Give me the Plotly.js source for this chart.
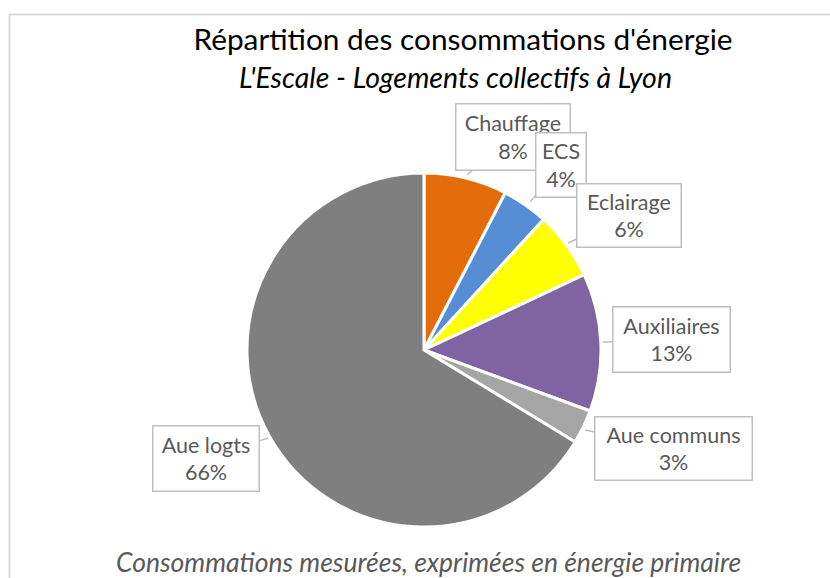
<!DOCTYPE html>
<html>
<head>
<meta charset="utf-8">
<script src="https://cdn.plot.ly/plotly-3.0.1.min.js"></script>
<style>html,body{margin:0;padding:0;background:#fff;}#chart{width:830px;height:578px;}</style>
</head>
<body>
<div id="chart"></div>
<script>
// Data
const categories = ["Chauffage", "ECS", "Eclairage", "Auxiliaires", "Aue communs", "Aue logts"];
const values = [7.6, 4.2, 6.2, 12.6, 3.1, 66.3];
const colors = ["#E46C0A", "#558ED5", "#FFFF00", "#8064A2", "#A5A5A5", "#7F7F7F"];

const titleText = "Répartition des consommations d'énergie";
const subtitleText = "L'Escale - Logements collectifs à Lyon";
const footerText = "Consommations mesurées, exprimées en énergie primaire";

// Layout helpers (pixel positions of callouts)
const W = 830, H = 578;
const tips = [[467,175],[530,202],[568,243],[603,342],[585,430],[268,438]];
const boxes = [[513,137,116,68],[561,165,52,66],[629,215.5,106,65],[671.5,339.5,119,67],[673.5,448.5,159,65],[206,458.5,108,67]];

const total = values.reduce((a,b)=>a+b,0);
const FONT = "Lato, 'Open Sans', sans-serif";

const annotations = categories.map((c,i)=>{
  const t = tips[i], b = boxes[i];
  const pad = 2;
  return {
    xref:'paper', yref:'paper',
    x: t[0]/W, y: 1 - t[1]/H,
    ax: b[0]-t[0], ay: b[1]-t[1], axref:'pixel', ayref:'pixel',
    showarrow:true, arrowhead:0, arrowwidth:1.5, arrowcolor:'#BFBFBF', standoff:0, startstandoff:0,
    text: c + '<br>' + Math.round(values[i]/total*100) + '%',
    font:{family:FONT, size:21.5, color:'#595959'},
    align:'center',
    bgcolor:'#FFFFFF', bordercolor:'#BFBFBF', borderwidth:1.5, borderpad:pad,
    width: b[2]-2*pad-3, height: b[3]-2*pad-3
  };
});

annotations.push({
  xref:'paper', yref:'paper', x:455/W, y:1-77/H, xanchor:'center', yanchor:'middle',
  showarrow:false, text:'<i>'+subtitleText+'</i>',
  font:{family:FONT, size:28.5, color:'#000000'}
});
annotations.push({
  xref:'paper', yref:'paper', x:429/W, y:1-562/H, xanchor:'center', yanchor:'middle',
  showarrow:false, text:'<i>'+footerText+'</i>',
  font:{family:FONT, size:26.5, color:'#595959'}
});

const trace = {
  type:'pie',
  labels: categories,
  values: values,
  sort:false,
  direction:'clockwise',
  rotation:0,
  textinfo:'none',
  hoverinfo:'label+percent',
  marker:{colors:colors, line:{color:'#FFFFFF', width:3}},
  domain:{x:[247/W, 601/W], y:[1-527/H, 1-173/H]},
  showlegend:false
};

const layout = {
  width:W, height:H,
  margin:{l:0,r:0,t:0,b:0},
  paper_bgcolor:'#FFFFFF',
  title:{text:titleText, x:463/W, xanchor:'center', y:1-40/H, yanchor:'middle',
         font:{family:FONT, size:29.8, color:'#000000'}},
  annotations: annotations,
  shapes:[{type:'rect', xref:'paper', yref:'paper', x0:9.5/W, x1:1.2, y0:-0.2, y1:1-14.5/H,
           line:{color:'#D9D9D9', width:2}, fillcolor:'rgba(0,0,0,0)'}]
};

Plotly.newPlot('chart', [trace], layout, {staticPlot:true});
</script>
</body>
</html>
